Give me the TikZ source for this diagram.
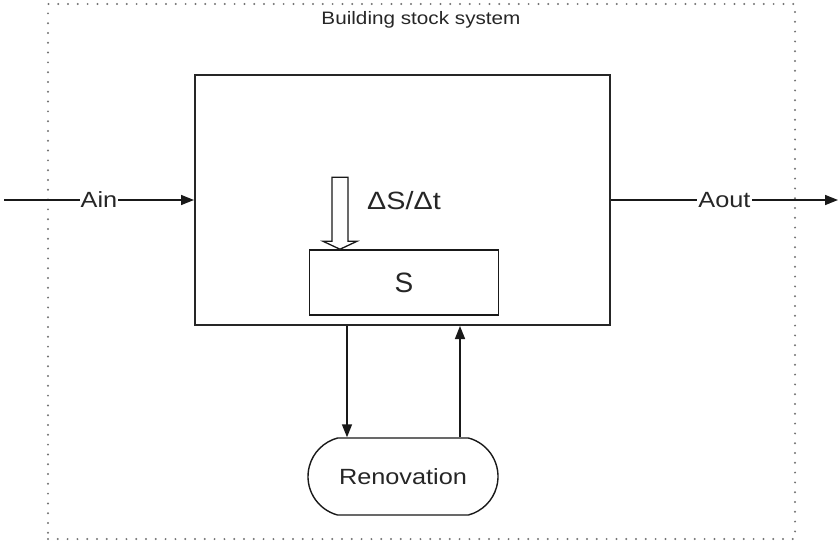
\documentclass[tikz,border=0pt]{standalone}
\usepackage{fontspec}
\setmainfont{Liberation Sans}
\newfontfamily\diagfont[FakeStretch=1.15]{Liberation Sans}
\usepackage{tikz}
\usetikzlibrary{arrows.meta,positioning,shapes.misc,calc}

\begin{document}
\begin{tikzpicture}[
x=1pt,
y=-1pt,
every node/.style={font=\diagfont\fontsize{22}{24}\selectfont,text=black!85},
boundary/.style={rectangle,draw=black!55,line width=2.2pt,line cap=round,dash pattern=on 0pt off 9.8pt,minimum width=747pt,minimum height=535pt,inner sep=0pt},
sysbox/.style={rectangle,draw=black!85,line width=2pt,minimum width=415pt,minimum height=250pt,inner sep=0pt},
stockbox/.style={rectangle,draw=black!90,line width=1.5pt,minimum width=189pt,minimum height=65pt,inner sep=0pt},
renbox/.style={rounded rectangle,rounded rectangle arc length=150,draw=black!90,line width=1.4pt,minimum width=190pt,minimum height=77pt,inner sep=0pt},
flow/.style={-{Triangle[length=13pt,width=10pt]},line width=1.5pt,draw=black!90},
hollow/.style={line width=1.3pt,draw=black!90,fill=white,line join=miter},
lbl/.style={fill=white,inner sep=1pt}
]
\useasboundingbox (0,0) rectangle (840,543);

\node[boundary] (bound) at (421.5,271.5) {};
\node[font=\diagfont\fontsize{18}{20}\selectfont] (title) at (421,20) {Building stock system};

\node[sysbox] (sys) at (402.5,200) {};
\node[stockbox,font=\fontsize{28}{30}\selectfont] (stock) at (404,282.5) {S};
\node[renbox] (ren) at (403,476.5) {Renovation};

% change of stock
\coordinate (dsx) at (340,178);
\coordinate (dstip) at (stock.north -| dsx);
\draw[hollow] (dstip) -- ++(-17,-8) -- ++(9,0) -- ++(0,-64) -- ++(16,0) -- ++(0,64) -- ++(9,0) -- cycle;
\node[font=\diagfont\fontsize{25}{27}\selectfont] (rate) at (404,201) {ΔS/Δt};

% in- and outflow
\coordinate (ain) at (4,200);
\coordinate (aout) at (838,200);
\draw[flow] (ain) -- node[lbl]{Ain} (sys.west);
\draw[flow] (sys.east) -- node[lbl]{Aout} (aout);

% renovation loop
\draw[flow] ([xshift=-55.5pt]sys.south) -- ([xshift=-56pt]ren.north);
\draw[flow] ([xshift=57pt]ren.north) -- ([xshift=57.5pt]sys.south);
\end{tikzpicture}
\end{document}
